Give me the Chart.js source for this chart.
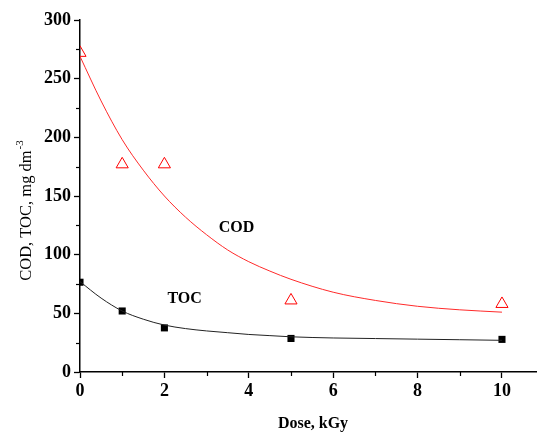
<!DOCTYPE html>
<html>
<head>
<meta charset="utf-8">
<script src="https://cdn.jsdelivr.net/npm/chart.js@4.4.1/dist/chart.umd.min.js"></script>
<style>
  html, body { margin: 0; padding: 0; background: #fff; overflow: hidden; }
  #wrap { width: 537px; height: 433px; }
  canvas { display: block; }
</style>
</head>
<body>
<div id="wrap"><canvas id="chart" width="537" height="433"></canvas></div>
<script>
// measured points
const doseLevels = [0, 1, 2, 5, 10];
const codValues = [272, 177, 177, 61, 58];
const tocValues = [76.5, 52, 37.6, 28.6, 27.8];

// fitted curves
const fitDose = [0, 0.5, 1, 1.5, 2, 2.5, 3, 3.5, 4, 4.5, 5, 6, 7, 8, 9, 10];
const codFit = [269, 231, 198, 172, 150, 132, 117, 104, 94, 86, 79, 68, 61, 56, 53, 51];
const tocFit = [77, 63, 52, 45, 40, 37, 35, 33.5, 32, 31, 30, 29, 28.5, 28, 27.5, 27];

const xTicks = [0, 2, 4, 6, 8, 10];
const yTicks = [0, 50, 100, 150, 200, 250, 300];
const xMinor = [1, 3, 5, 7, 9];
const yMinor = [25, 75, 125, 175, 225, 275];

const serif = '"Liberation Serif", "Times New Roman", serif';

const toXY = (xs, ys) => xs.map((x, i) => ({ x: x, y: ys[i] }));

// minor ticks, axis titles and curve labels
const extras = {
  id: 'extras',
  afterDraw(chart) {
    const ctx = chart.ctx;
    const xs = chart.scales.x;
    const ys = chart.scales.y;
    const area = chart.chartArea;
    ctx.save();
    ctx.strokeStyle = '#000';
    ctx.lineWidth = 1.2;
    xMinor.forEach((v) => {
      const px = Math.round(xs.getPixelForValue(v)) + 0.5;
      ctx.beginPath();
      ctx.moveTo(px, area.bottom);
      ctx.lineTo(px, area.bottom + 4);
      ctx.stroke();
    });
    yMinor.forEach((v) => {
      const py = Math.round(ys.getPixelForValue(v)) + 0.5;
      ctx.beginPath();
      ctx.moveTo(area.left, py);
      ctx.lineTo(area.left - 4, py);
      ctx.stroke();
    });

    ctx.fillStyle = '#000';
    ctx.font = 'bold 16px ' + serif;
    ctx.textAlign = 'center';
    ctx.textBaseline = 'middle';
    ctx.fillText('COD', xs.getPixelForValue(3.71), ys.getPixelForValue(123));
    ctx.fillText('TOC', xs.getPixelForValue(2.48), ys.getPixelForValue(62));
    ctx.fillText('Dose, kGy', 313, 424);

    // y title with superscript
    const main = 'COD, TOC, mg dm';
    const sup = '-3';
    ctx.translate(27, 211);
    ctx.rotate(-Math.PI / 2);
    ctx.font = '16.5px ' + serif;
    const w1 = ctx.measureText(main).width;
    ctx.font = '11px ' + serif;
    const w2 = ctx.measureText(sup).width;
    const start = -(w1 + w2) / 2;
    ctx.textAlign = 'left';
    ctx.font = '16.5px ' + serif;
    ctx.fillText(main, start, 0);
    ctx.font = '11px ' + serif;
    ctx.fillText(sup, start + w1 + 1, -7);
    ctx.restore();
  }
};

new Chart('chart', {
  type: 'scatter',
  data: {
    datasets: [
      {
        label: 'COD fit',
        data: toXY(fitDose, codFit),
        showLine: true,
        borderColor: '#ff2a2a',
        borderWidth: 1,
        pointRadius: 0,
        cubicInterpolationMode: 'monotone',
      },
      {
        label: 'TOC fit',
        data: toXY(fitDose, tocFit),
        showLine: true,
        borderColor: '#222',
        borderWidth: 1,
        pointRadius: 0,
        cubicInterpolationMode: 'monotone',
      },
      {
        label: 'COD',
        data: toXY(doseLevels, codValues),
        pointStyle: 'triangle',
        pointRadius: 7,
        borderColor: '#ff0000',
        backgroundColor: 'rgba(0,0,0,0)',
        borderWidth: 1,
      },
      {
        label: 'TOC',
        data: toXY(doseLevels, tocValues),
        pointStyle: 'rect',
        pointRadius: 5,
        borderColor: '#000',
        backgroundColor: '#000',
        borderWidth: 0,
      },
    ],
  },
  options: {
    responsive: false,
    animation: false,
    layout: { autoPadding: false, padding: { top: 20, right: 0, left: 0, bottom: 0 } },
    plugins: {
      legend: { display: false },
      tooltip: { enabled: false },
    },
    scales: {
      x: {
        type: 'linear',
        min: 0,
        max: 10.83,
        afterFit: (scale) => {
          scale.height = 61;
          scale.paddingRight = 0;
          scale.paddingLeft = 0;
        },
        afterBuildTicks: (scale) => { scale.ticks = xTicks.map((v) => ({ value: v })); },
        ticks: {
          color: '#000',
          font: { family: serif, size: 18, weight: 'bold' },
          padding: 3,
          maxRotation: 0,
        },
        grid: { drawOnChartArea: false, tickLength: 6, tickColor: '#000', tickWidth: 1.3 },
        border: { color: '#000', width: 1.5 },
      },
      y: {
        min: 0,
        max: 300,
        afterFit: (scale) => { scale.width = 80; },
        afterBuildTicks: (scale) => { scale.ticks = yTicks.map((v) => ({ value: v })); },
        ticks: {
          color: '#000',
          font: { family: serif, size: 18, weight: 'bold' },
          padding: 3,
        },
        grid: { drawOnChartArea: false, tickLength: 6, tickColor: '#000', tickWidth: 1.3 },
        border: { color: '#000', width: 1.5 },
      },
    },
  },
  plugins: [extras],
});
</script>
</body>
</html>
